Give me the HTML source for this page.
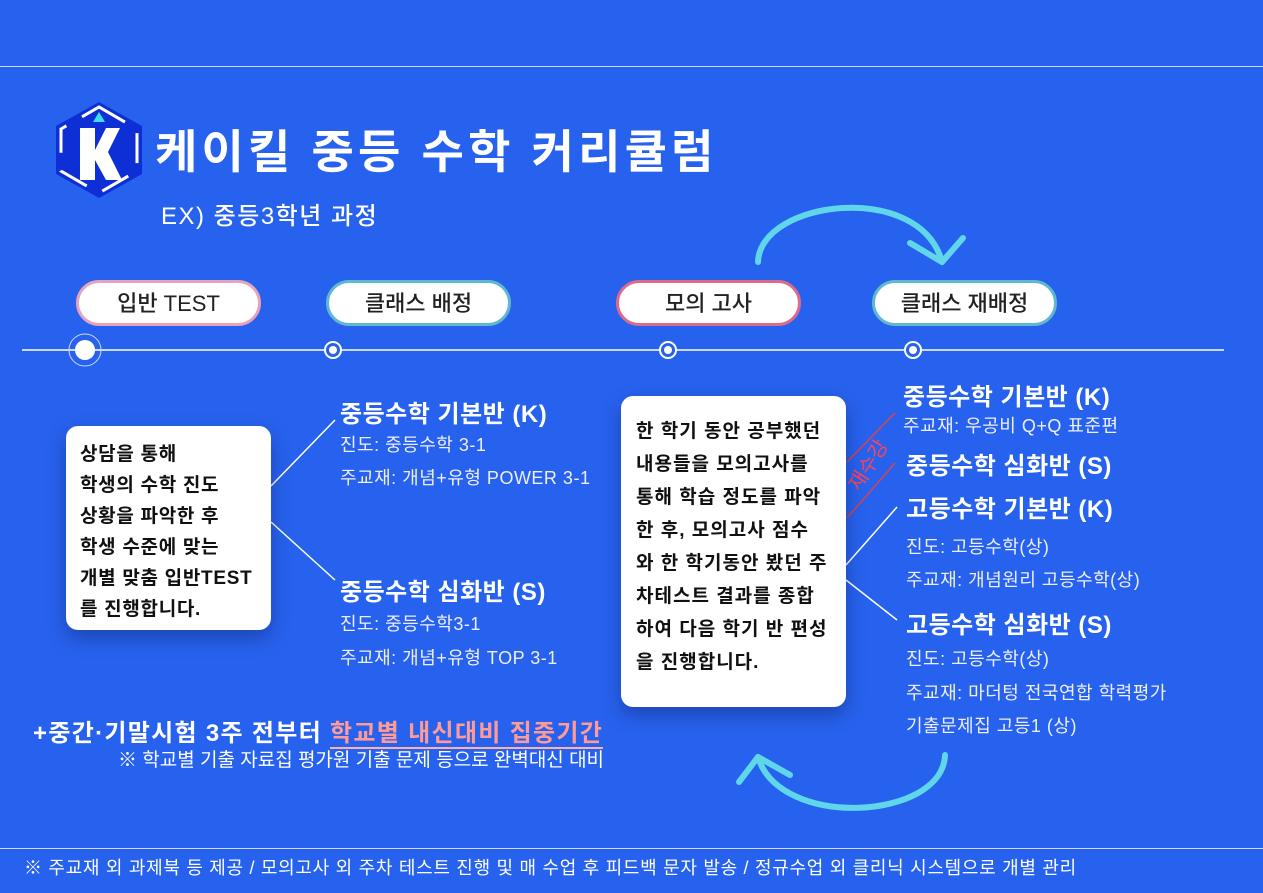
<!DOCTYPE html>
<html><head><meta charset="utf-8"><style>
*{margin:0;padding:0;box-sizing:border-box}
body{width:1263px;height:893px;overflow:hidden;background:#2762ee;font-family:"Liberation Sans","Noto Sans CJK KR",sans-serif;position:relative;color:#fff}
.a{position:absolute;white-space:nowrap}
.pill{position:absolute;height:46px;width:185px;background:#fff;border-radius:23px;color:#222;font-size:22px;text-align:center;line-height:42px;font-weight:500;letter-spacing:0}
.box{position:absolute;background:#fff;border-radius:12px;color:#111;font-size:19px;font-weight:700;letter-spacing:1px;box-shadow:0 8px 20px rgba(0,0,40,.3)}
.h{font-size:24px;font-weight:700;letter-spacing:0.5px}
.s{font-size:18px;letter-spacing:0.5px;color:#eef}
</style></head><body>
<div class="a" style="left:0;top:66px;width:1263px;height:1px;background:#cfd9ff"></div>
<div class="a" style="left:0;top:848px;width:1263px;height:1px;background:#cfd9ff"></div>

<svg class="a" style="left:0;top:0" width="1263" height="893">
<polygon points="99,102 142,126 142,174 99,198 56,174 56,126" fill="#0f2fd6"/>
<polygon points="99,107 137,129 137,171 99,193 61,171 61,129" fill="none" stroke="#fff" stroke-width="3" stroke-dasharray="30 18"/>
<polygon points="99,112 105,122 93,122" fill="#3de0f0"/>
<polygon points="80,128 95,128 95,150 106,128 120,128 108,152 122,180 106,180 95,160 95,180 80,180" fill="#fff"/>
<line x1="22" y1="350" x2="1224" y2="350" stroke="#fff" stroke-width="1.5"/>
<circle cx="85" cy="350" r="16" fill="none" stroke="#cfd9ff" stroke-width="1"/>
<circle cx="85" cy="350" r="10" fill="#fff"/>
<g fill="#2762ee" stroke="#fff" stroke-width="2">
<circle cx="333" cy="350" r="8"/><circle cx="668" cy="350" r="8"/><circle cx="913" cy="350" r="8"/></g>
<g fill="#fff"><circle cx="333" cy="350" r="4"/><circle cx="668" cy="350" r="4"/><circle cx="913" cy="350" r="4"/></g>
<g stroke="#fff" stroke-width="1.5">
<line x1="271" y1="486" x2="335" y2="420"/><line x1="271" y1="522" x2="335" y2="580"/>
<line x1="846" y1="565" x2="897" y2="507"/><line x1="846" y1="580" x2="897" y2="620"/></g>
<g stroke="#e0404a" stroke-width="1.5"><line x1="847" y1="462" x2="895" y2="413"/><line x1="847" y1="518" x2="895" y2="463"/></g>
<text x="0" y="7" transform="translate(868,465) rotate(-58)" fill="#ff4455" font-size="20" text-anchor="middle" font-family="Noto Sans CJK KR,sans-serif">재수강</text>
<g fill="none" stroke="#5fd6ea" stroke-width="6" stroke-linecap="round" stroke-linejoin="round">
<path d="M758,262 C760,200 920,180 942,262"/>
<path d="M910,243 L942,262 L963,238"/>
<path d="M945,755 C943,820 780,830 758,757"/>
<path d="M739,782 L758,757 L790,775"/>
</g>
</svg>

<div class="a" style="left:155px;top:116px;font-size:46px;font-weight:700;letter-spacing:4.2px">케이킬 중등 수학 커리큘럼</div>
<div class="a" style="left:161px;top:196px;font-size:24px;font-weight:500;letter-spacing:1.5px">EX) 중등3학년 과정</div>

<div class="pill" style="left:76px;top:280px;border:3px solid #e7a3bb">입반 TEST</div>
<div class="pill" style="left:326px;top:280px;border:3px solid #5fb8cf">클래스 배정</div>
<div class="pill" style="left:616px;top:280px;border:3px solid #de6a8a">모의 고사</div>
<div class="pill" style="left:872px;top:280px;border:3px solid #5fb8cf">클래스 재배정</div>

<div class="box" style="left:66px;top:426px;width:205px;height:204px;padding:13px 0 0 14px;line-height:31px;letter-spacing:0.7px">상담을 통해<br>학생의 수학 진도<br>상황을 파악한 후<br>학생 수준에 맞는<br>개별 맞춤 입반TEST<br>를 진행합니다.</div>

<div class="a h" style="left:340px;top:394px">중등수학 기본반 (K)</div>
<div class="a s" style="left:340px;top:431px">진도: 중등수학 3-1</div>
<div class="a s" style="left:340px;top:464px">주교재: 개념+유형 POWER 3-1</div>
<div class="a h" style="left:340px;top:572px">중등수학 심화반 (S)</div>
<div class="a s" style="left:340px;top:610px">진도: 중등수학3-1</div>
<div class="a s" style="left:340px;top:644px">주교재: 개념+유형 TOP 3-1</div>

<div class="box" style="left:621px;top:396px;width:225px;height:311px;padding:19px 0 0 15px;line-height:33px">한 학기 동안 공부했던<br>내용들을 모의고사를<br>통해 학습 정도를 파악<br>한 후, 모의고사 점수<br>와 한 학기동안 봤던 주<br>차테스트 결과를 종합<br>하여 다음 학기 반 편성<br>을 진행합니다.</div>

<div class="a h" style="left:903px;top:377px">중등수학 기본반 (K)</div>
<div class="a s" style="left:903px;top:412px">주교재: 우공비 Q+Q 표준편</div>
<div class="a h" style="left:906px;top:446px">중등수학 심화반 (S)</div>
<div class="a h" style="left:906px;top:489px">고등수학 기본반 (K)</div>
<div class="a s" style="left:906px;top:533px">진도: 고등수학(상)</div>
<div class="a s" style="left:906px;top:566px">주교재: 개념원리 고등수학(상)</div>
<div class="a h" style="left:906px;top:605px">고등수학 심화반 (S)</div>
<div class="a s" style="left:906px;top:645px">진도: 고등수학(상)</div>
<div class="a s" style="left:906px;top:679px">주교재: 마더텅 전국연합 학력평가</div>
<div class="a s" style="left:906px;top:712px">기출문제집 고등1 (상)</div>

<div class="a" style="left:33px;top:713px;font-size:24px;font-weight:700;letter-spacing:1.3px">+중간·기말시험 3주 전부터 <span style="color:#ff9a96;border-bottom:2px solid #ffb0aa">학교별 내신대비 집중기간</span></div>
<div class="a" style="left:118px;top:745px;font-size:19px;letter-spacing:0">※ 학교별 기출 자료집 평가원 기출 문제 등으로 완벽대신 대비</div>

<div class="a" style="left:24px;top:854px;font-size:18px;letter-spacing:0.7px">※ 주교재 외 과제북 등 제공 / 모의고사 외 주차 테스트 진행 및 매 수업 후 피드백 문자 발송 / 정규수업 외 클리닉 시스템으로 개별 관리</div>
</body></html>
